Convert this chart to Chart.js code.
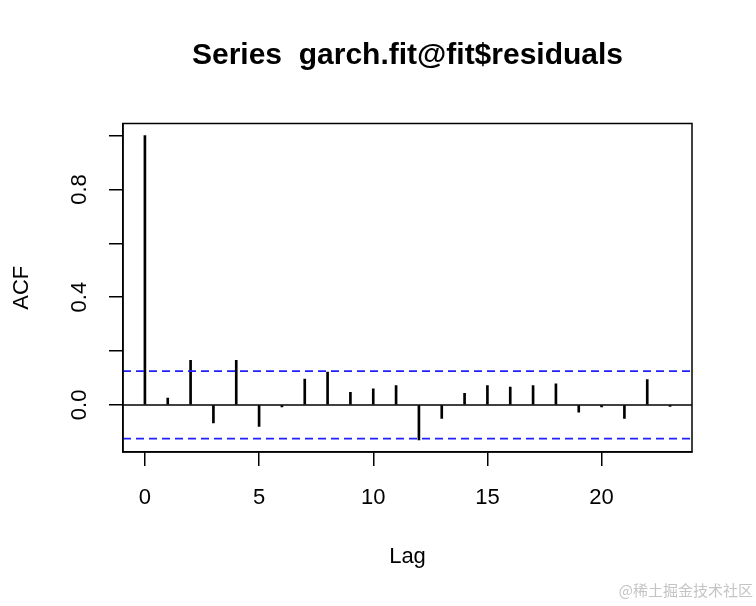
<!DOCTYPE html>
<html>
<head>
<meta charset="utf-8">
<script src="https://cdn.jsdelivr.net/npm/chart.js@4.4.1/dist/chart.umd.min.js"></script>
<style>
  body { margin: 0; background: #fff; }
  #wrap { position: relative; width: 756px; height: 606px; }
  #mark { position: absolute; right: 3px; bottom: 6px; font: 15px "Noto Sans CJK SC", sans-serif; color: #c4c4c4; }
</style>
</head>
<body>
<div id="wrap">
  <canvas id="acf-plot" width="756" height="606"></canvas>
  <div id="mark">@稀土掘金技术社区</div>
</div>
<script>
// ACF of the garch residuals
var lags = [0, 1, 2, 3, 4, 5, 6, 7, 8, 9, 10, 11, 12, 13, 14, 15, 16, 17, 18, 19, 20, 21, 22, 23];
var acfValues = [1.0, 0.025, 0.165, -0.067, 0.165, -0.08, -0.008, 0.096, 0.122, 0.047, 0.06, 0.072,
                 -0.13, -0.05, 0.043, 0.072, 0.066, 0.072, 0.078, -0.027, -0.008, -0.05, 0.094, -0.006];
var ciBound = 0.125;
var xTicks = [0, 5, 10, 15, 20];
var yTicks = [0, 0.2, 0.4, 0.6, 0.8, 1.0];
var yLabelled = [0, 0.4, 0.8];
var xRange = [-0.96, 23.96];
var yRange = [-0.175, 1.045];

var font = 'Liberation Sans, Arial, sans-serif';

// R style box around the plot region
var boxPlugin = {
  id: 'box',
  afterDraw: function(chart) {
    var a = chart.chartArea, c = chart.ctx;
    c.save();
    c.strokeStyle = '#000';
    c.lineWidth = 1.5;
    c.strokeRect(a.left, a.top, a.right - a.left, a.bottom - a.top);
    c.restore();
  }
};

var bars = lags.map(function(l, i) { return {x: l, y: acfValues[i]}; });

var ctx = document.getElementById('acf-plot');
var myChart = new Chart(ctx, {
  type: 'bar',
  data: {
    datasets: [{
      type: 'bar',
      data: bars,
      backgroundColor: '#000',
      barThickness: 2,
      order: 2
    }, {
      type: 'line',
      data: [{x: xRange[0], y: 0}, {x: xRange[1], y: 0}],
      borderColor: '#000',
      borderWidth: 1.5,
      pointRadius: 0,
      order: 1
    }, {
      type: 'line',
      data: [{x: xRange[0], y: ciBound}, {x: xRange[1], y: ciBound}],
      borderColor: '#2020ff',
      borderWidth: 1.8,
      borderDash: [8, 5],
      pointRadius: 0,
      order: 0
    }, {
      type: 'line',
      data: [{x: xRange[0], y: -ciBound}, {x: xRange[1], y: -ciBound}],
      borderColor: '#2020ff',
      borderWidth: 1.8,
      borderDash: [8, 5],
      pointRadius: 0,
      order: 0
    }]
  },
  options: {
    responsive: false,
    animation: false,
    layout: { padding: { left: 0, right: 64, top: 0, bottom: 0 } },
    plugins: {
      legend: { display: false },
      tooltip: { enabled: false },
      title: {
        display: true,
        fullSize: false,   // centre over the plot region like R does
        text: 'Series  garch.fit@fit$residuals',
        color: '#000',
        font: { family: font, size: 30, weight: 'bold' },
        padding: { top: 38, bottom: 49.5 }
      }
    },
    scales: {
      x: {
        type: 'linear',
        min: xRange[0],
        max: xRange[1],
        offset: false,
        grid: { display: true, drawOnChartArea: false, offset: false, tickLength: 14, color: '#000', lineWidth: 1.5 },
        border: { display: true, color: '#000', width: 1.5 },
        afterBuildTicks: function(s) { s.ticks = xTicks.map(function(v) { return {value: v}; }); },
        afterFit: function(s) { s.height = 154; },
        ticks: { color: '#000', padding: 19, font: { family: font, size: 22 }, maxRotation: 0 },
        title: { display: true, text: 'Lag', color: '#000', font: { family: font, size: 22 }, padding: { top: 0, bottom: 36 } }
      },
      y: {
        min: yRange[0],
        max: yRange[1],
        grid: { display: true, drawOnChartArea: false, tickLength: 14, color: '#000', lineWidth: 1.5 },
        border: { display: true, color: '#000', width: 1.5 },
        afterBuildTicks: function(s) { s.ticks = yTicks.map(function(v) { return {value: v}; }); },
        afterFit: function(s) { s.width = 123; },
        ticks: {
          color: '#000',
          padding: 14,
          crossAlign: 'center',
          minRotation: 90,
          maxRotation: 90,
          font: { family: font, size: 22 },
          callback: function(v) {
            for (var i = 0; i < yLabelled.length; i++) {
              if (Math.abs(v - yLabelled[i]) < 1e-9) return v.toFixed(1);
            }
            return '';
          }
        },
        title: { display: true, text: 'ACF', color: '#000', font: { family: font, size: 22 }, padding: { top: 9, bottom: 0 } }
      }
    }
  },
  plugins: [boxPlugin]
});
</script>
</body>
</html>
